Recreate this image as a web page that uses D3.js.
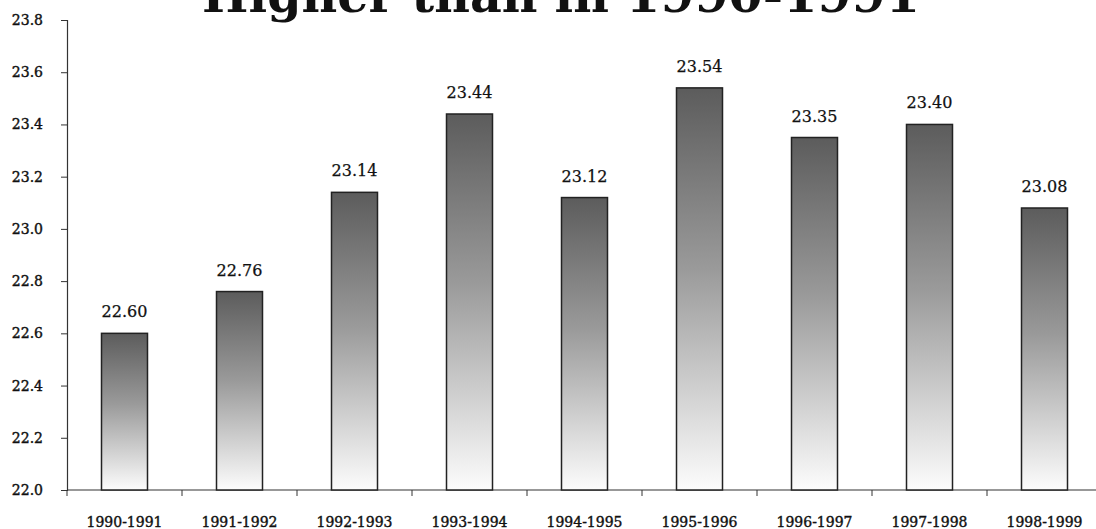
<!DOCTYPE html>
<html>
<head>
<meta charset="utf-8">
<script src="https://cdn.jsdelivr.net/npm/d3@7"></script>
<style>
  html, body { margin: 0; padding: 0; background: #fff; }
  svg { display: block; }
  text { font-family: "DejaVu Serif", "Liberation Serif", serif; fill: #111; }
  .lbl { stroke: #111; stroke-width: 0.4px; }
</style>
</head>
<body>
<svg id="chart" width="1096" height="529"></svg>
<script>
// Average values per school year
const years = ["1990-1991", "1991-1992", "1992-1993", "1993-1994", "1994-1995",
               "1995-1996", "1996-1997", "1997-1998", "1998-1999"];
const values = [22.60, 22.76, 23.14, 23.44, 23.12, 23.54, 23.35, 23.40, 23.08];
const yTicks = [22.0, 22.2, 22.4, 22.6, 22.8, 23.0, 23.2, 23.4, 23.6, 23.8];
const titleText = "Higher than in 1990-1991";

const svg = d3.select("#chart");
const plotLeft = 67, plotBottom = 490, plotTop = 20, step = 115;

const x = d3.scaleBand().domain(years).range([plotLeft, plotLeft + step * years.length]).padding(0);
const y = d3.scaleLinear().domain([22.0, 23.8]).range([plotBottom, plotTop]);

// vertical shading for each bar: dark at the top, nearly white at the base
const defs = svg.append("defs");
const grad = defs.append("linearGradient")
  .attr("id", "barShade").attr("x1", 0).attr("y1", 0).attr("x2", 0).attr("y2", 1);
grad.append("stop").attr("offset", "0%").attr("stop-color", "#5c5c5c");
grad.append("stop").attr("offset", "45%").attr("stop-color", "#9a9a9a");
grad.append("stop").attr("offset", "100%").attr("stop-color", "#fcfcfc");

// title (partly above the top edge)
const title = svg.append("text")
  .attr("x", 561).attr("y", 12)
  .attr("text-anchor", "middle")
  .attr("font-weight", "bold")
  .attr("font-size", 50)
  .text(titleText);
const tw = title.node().getComputedTextLength();
title.attr("font-size", 50 * 718 / tw);

// y axis
const yAxis = svg.append("g")
  .attr("transform", `translate(${plotLeft},0)`)
  .call(d3.axisLeft(y).tickValues(yTicks).tickFormat(d3.format(".1f")).tickSize(6).tickPadding(18));
yAxis.select(".domain").attr("stroke", "#333").attr("stroke-width", 1.2);
yAxis.selectAll(".tick line").attr("stroke", "#333");
yAxis.selectAll(".tick text")
  .attr("class", "lbl")
  .attr("font-size", 14).attr("font-family", "DejaVu Serif, serif").attr("fill", "#111");

// x axis: ticks between categories
const bounds = years.map(d => x(d));
const xAxisG = svg.append("g");
xAxisG.append("line")
  .attr("x1", plotLeft).attr("x2", 1096).attr("y1", plotBottom).attr("y2", plotBottom)
  .attr("stroke", "#333").attr("stroke-width", 1.2);
xAxisG.selectAll("line.tk").data(bounds).join("line").attr("class", "tk")
  .attr("x1", d => d).attr("x2", d => d).attr("y1", plotBottom).attr("y2", plotBottom + 6)
  .attr("stroke", "#333");
xAxisG.selectAll("text").data(years).join("text")
  .attr("class", "lbl")
  .attr("x", d => x(d) + x.bandwidth() / 2)
  .attr("y", 527)
  .attr("text-anchor", "middle")
  .attr("font-size", 14)
  .text(d => d);

// bars
const barW = x.bandwidth() * 0.4;
svg.append("g").selectAll("rect").data(years).join("rect")
  .attr("x", d => x(d) + (x.bandwidth() - barW) / 2)
  .attr("y", (d, i) => y(values[i]))
  .attr("width", barW)
  .attr("height", (d, i) => plotBottom - y(values[i]))
  .attr("fill", "url(#barShade)")
  .attr("stroke", "#222")
  .attr("stroke-width", 1.5);

// value labels
svg.append("g").selectAll("text").data(years).join("text")
  .attr("class", "lbl")
  .attr("x", d => x(d) + x.bandwidth() / 2)
  .attr("y", (d, i) => y(values[i]) - 16)
  .attr("text-anchor", "middle")
  .attr("font-size", 16)
  .style("stroke-width", "0.25px")
  .text((d, i) => values[i].toFixed(2));
</script>
</body>
</html>
